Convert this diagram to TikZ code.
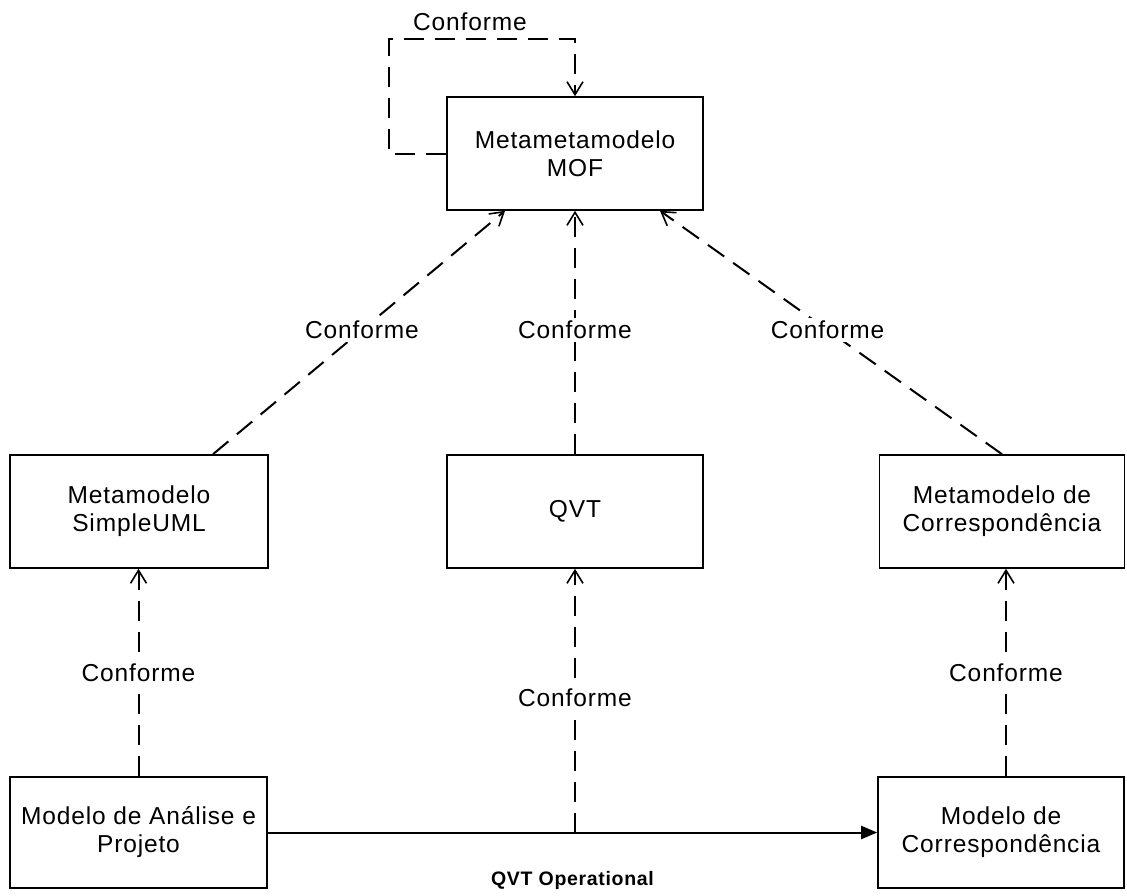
\documentclass[tikz,border=0pt]{standalone}
\usepackage{fontspec}
\setmainfont{Liberation Sans}[LetterSpace=3.5]
\usetikzlibrary{arrows.meta}
\begin{document}
\begin{tikzpicture}[x=1pt,y=-1pt,
  box/.style={draw, line width=1.6pt, minimum width=#1, minimum height=113pt,
    align=center, inner sep=0pt, font=\fontsize{24.5}{28}\selectfont},
  box/.default=256pt,
  conf/.style={line width=2pt, dash pattern=on 20pt off 11pt,
    -{Straight Barb[length=13pt,width=16pt,line width=1.6pt]}},
  lbl/.style={fill=white, inner sep=3pt, font=\fontsize{24.5}{28}\selectfont},
]
\useasboundingbox (0,0) rectangle (1127,895);

% models and metamodels
\node[box] (mof) at (575,153.5) {Metametamodelo\\MOF};
\node[box=258pt] (simple) at (139,511.5) {Metamodelo\\SimpleUML};
\node[box] (qvt) at (575,511.5) {QVT};
\node[box=245pt] (mcorr) at (1002,511.5) {Metamodelo de\\Correspondência};
\node[box=257pt, minimum height=111pt] (ap) at (138.5,832.5) {Modelo de Análise e\\Projeto};
\node[box=246pt, minimum height=111pt] (corr) at (1001,832.5) {Modelo de\\Correspondência};

% MOF conforms to itself
\draw[conf] (mof.west) -- ++(-57,0) |- ([yshift=57pt]mof.north) -- (mof.north);
\node[font=\fontsize{24.5}{28}\selectfont] (selfconf) at (470,22) {Conforme};

% metamodels conform to MOF
\draw[conf] ([xshift=74pt]simple.north) -- node[lbl, pos=0.51] {Conforme} ([xshift=-70pt]mof.south);
\draw[conf] (qvt.north) -- node[lbl, pos=0.51] {Conforme} (mof.south);
\draw[conf] (mcorr.north) -- node[lbl, pos=0.51] {Conforme} ([xshift=85pt]mof.south);

% models conform to their metamodels
\draw[conf] (ap.north) -- node[lbl, pos=0.5] {Conforme} (ap.north |- simple.south);
\draw[conf] ([xshift=5pt]corr.north) -- node[lbl, pos=0.5] {Conforme} ([xshift=5pt]corr.north |- mcorr.south);

% the transformation
\draw[line width=2pt, -{Triangle[length=16pt,width=13pt]}] (ap.east) -- (corr.west)
  node[midway, yshift=-48pt, font=\bfseries\fontsize{19.5}{22}\selectfont] (qvtop) {QVT Operational};
\coordinate (split) at (qvt.south |- ap.east);
\draw[conf] (split) -- node[lbl, pos=0.51] {Conforme} (qvt.south);
\end{tikzpicture}
\end{document}
